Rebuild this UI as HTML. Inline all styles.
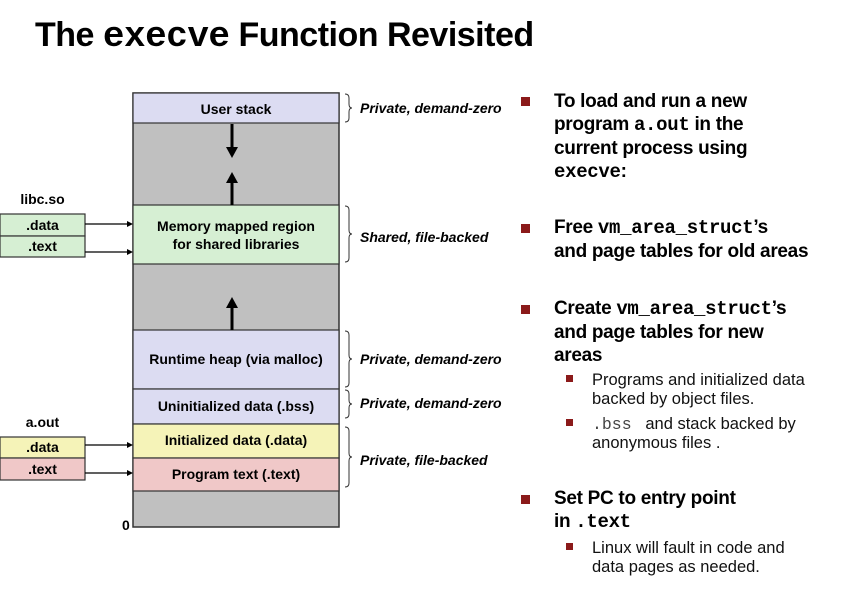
<!DOCTYPE html>
<html><head><meta charset="utf-8"><style>
body{margin:0;width:853px;height:591px;background:#fff;position:relative;overflow:hidden;font-family:"Liberation Sans",sans-serif}
.a{position:absolute;white-space:nowrap}
.t{font-weight:bold;font-size:34px;left:35px;top:16px;letter-spacing:-0.5px}
.m{font-family:"Liberation Mono",monospace}
.b{font-weight:bold;font-size:19px;left:554px;letter-spacing:-0.3px;line-height:23px}
.s{font-size:16.5px;left:592px;line-height:19px;color:#111}
.sq{position:absolute;background:#8b1a1a}
.L{font-weight:bold;font-size:14px;text-align:center;position:absolute}
.r{font-style:italic;font-weight:bold;font-size:14px;position:absolute;left:360px}
</style></head><body>
<div class="a t">The <span class="m" style="font-size:36px">execve</span> Function Revisited</div>

<svg width="853" height="591" style="position:absolute;left:0;top:0">
<rect x="133" y="93" width="206" height="434" fill="#c0c0c0" stroke="#333" stroke-width="1.5"/>
<rect x="133" y="93" width="206" height="30" fill="#dcdcf2" stroke="#333" stroke-width="1.2"/>
<rect x="133" y="205" width="206" height="59" fill="#d6efd3" stroke="#333" stroke-width="1.2"/>
<rect x="133" y="330" width="206" height="59" fill="#dcdcf2" stroke="#333" stroke-width="1.2"/>
<rect x="133" y="389" width="206" height="35" fill="#dcdcf2" stroke="#333" stroke-width="1.2"/>
<rect x="133" y="424" width="206" height="34" fill="#f5f3b8" stroke="#333" stroke-width="1.2"/>
<rect x="133" y="458" width="206" height="33" fill="#f0c8c8" stroke="#333" stroke-width="1.2"/>
<rect x="0" y="214" width="85" height="22" fill="#d6efd3" stroke="#333" stroke-width="1.2"/>
<rect x="0" y="236" width="85" height="21" fill="#d6efd3" stroke="#333" stroke-width="1.2"/>
<rect x="0" y="437" width="85" height="21" fill="#f5f3b8" stroke="#333" stroke-width="1.2"/>
<rect x="0" y="458" width="85" height="22" fill="#f0c8c8" stroke="#333" stroke-width="1.2"/>
<g stroke="#000" stroke-width="1.2">
<line x1="85" y1="224" x2="130" y2="224"/><line x1="85" y1="252" x2="130" y2="252"/>
<line x1="85" y1="445" x2="130" y2="445"/><line x1="85" y1="473" x2="130" y2="473"/>
</g>
<g fill="#000">
<polygon points="133,224 127,221 127,227"/><polygon points="133,252 127,249 127,255"/>
<polygon points="133,445 127,442 127,448"/><polygon points="133,473 127,470 127,476"/>
</g>
<g stroke="#000" stroke-width="3">
<line x1="232" y1="124" x2="232" y2="148"/><line x1="232" y1="182" x2="232" y2="205"/><line x1="232" y1="307" x2="232" y2="330"/>
</g>
<g fill="#000">
<polygon points="226,147 238,147 232,158"/><polygon points="226,183 238,183 232,172"/><polygon points="226,308 238,308 232,297"/>
</g>
<g fill="none" stroke="#333" stroke-width="1">
<path d="M345,94 q4,0 4,4 v6 q0,4 3,4 q-3,0 -3,4 v6 q0,4 -4,4"/>
<path d="M345,206 q4,0 4,4 v20 q0,4 3,4 q-3,0 -3,4 v20 q0,4 -4,4"/>
<path d="M345,331 q4,0 4,4 v20 q0,4 3,4 q-3,0 -3,4 v20 q0,4 -4,4"/>
<path d="M345,390 q4,0 4,4 v6 q0,4 3,4 q-3,0 -3,4 v6 q0,4 -4,4"/>
<path d="M345,427 q4,0 4,4 v22 q0,4 3,4 q-3,0 -3,4 v22 q0,4 -4,4"/>
</g>
</svg>

<div class="L" style="left:133px;width:206px;top:101px">User stack</div>
<div class="L" style="left:133px;width:206px;top:217px;line-height:18px">Memory mapped region<br>for shared libraries</div>
<div class="L" style="left:133px;width:206px;top:351px">Runtime heap (via malloc)</div>
<div class="L" style="left:133px;width:206px;top:398px">Uninitialized data (.bss)</div>
<div class="L" style="left:133px;width:206px;top:432px">Initialized data (.data)</div>
<div class="L" style="left:133px;width:206px;top:466px">Program text (.text)</div>
<div class="L" style="left:0;width:85px;top:191px">libc.so</div>
<div class="L" style="left:0;width:85px;top:217px">.data</div>
<div class="L" style="left:0;width:85px;top:238px">.text</div>
<div class="L" style="left:0;width:85px;top:414px">a.out</div>
<div class="L" style="left:0;width:85px;top:439px">.data</div>
<div class="L" style="left:0;width:85px;top:461px">.text</div>
<div class="L" style="left:122px;top:517px">0</div>
<div class="r" style="top:100px">Private, demand-zero</div>
<div class="r" style="top:229px">Shared, file-backed</div>
<div class="r" style="top:351px">Private, demand-zero</div>
<div class="r" style="top:395px">Private, demand-zero</div>
<div class="r" style="top:452px">Private, file-backed</div>

<div class="sq" style="left:521px;top:97px;width:9px;height:9px"></div>
<div class="sq" style="left:521px;top:224px;width:9px;height:9px"></div>
<div class="sq" style="left:521px;top:305px;width:9px;height:9px"></div>
<div class="sq" style="left:521px;top:495px;width:9px;height:9px"></div>
<div class="sq" style="left:566px;top:375px;width:7px;height:7px"></div>
<div class="sq" style="left:566px;top:419px;width:7px;height:7px"></div>
<div class="sq" style="left:566px;top:543px;width:7px;height:7px"></div>

<div class="a b" style="top:90px">To load and run a new<br>program <span class="m">a.out</span> in the<br>current process using<br><span class="m">execve</span>:</div>
<div class="a b" style="top:216px">Free <span class="m">vm_area_struct</span>’s<br>and page tables for old areas</div>
<div class="a b" style="top:297px">Create <span class="m">vm_area_struct</span>’s<br>and page tables for new<br>areas</div>
<div class="a s" style="top:371px">Programs and initialized data<br>backed by object files.</div>
<div class="a s" style="top:415px"><span class="m" style="color:#444">.bss</span> &nbsp;&nbsp;and stack backed by<br>anonymous files .</div>
<div class="a b" style="top:487px">Set PC to entry point<br>in <span class="m">.text</span></div>
<div class="a s" style="top:539px">Linux will fault in code and<br>data pages as needed.</div>
</body></html>
